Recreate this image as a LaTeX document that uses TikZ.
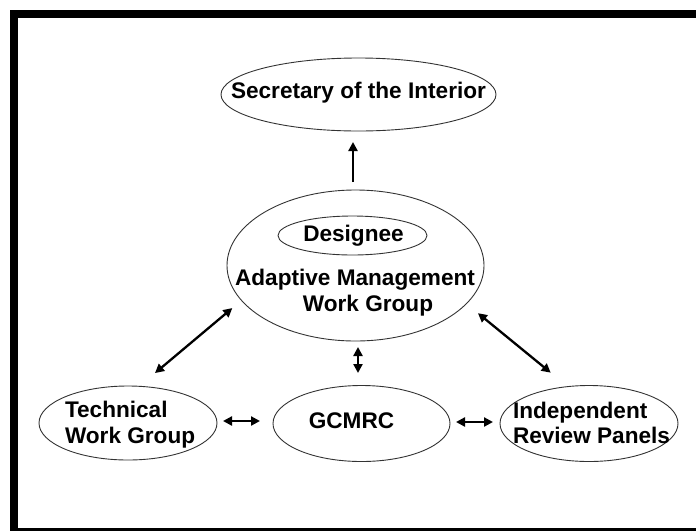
\documentclass[tikz,border=0pt]{standalone}
\usepackage{fontspec}
\setmainfont{Liberation Sans}
\usetikzlibrary{arrows.meta,shapes.geometric}
\begin{document}
\begin{tikzpicture}[x=1pt,y=-1pt,
  oval/.style={ellipse,draw=black!80,line width=0.9pt,inner sep=0pt,outer sep=0pt},
  lbl/.style={inner sep=0pt,outer sep=0pt,font=\fontsize{22.6}{26}\selectfont\bfseries},
  link/.style={line width=2.3pt,{Triangle[length=9pt,width=9pt]}-{Triangle[length=9pt,width=9pt]}},
  uplink/.style={line width=2.3pt,-{Triangle[length=9pt,width=9pt]}}]
\useasboundingbox (0,0) rectangle (696,531);

% page frame: heavy top and left rules, thin bottom rule
\fill (10,10) rectangle (696,17.5);
\fill (10,10) rectangle (17.5,531);
\fill (10,528.3) rectangle (696,531);

% ovals
\node[oval,minimum width=275pt,minimum height=73pt] (sec) at (358.5,94.5) {};
\node[oval,minimum width=257pt,minimum height=151pt] (amwg) at (355.5,265.5) {};
\node[oval,minimum width=149pt,minimum height=39pt] (des) at (352.5,235.5) {};
\node[oval,minimum width=178pt,minimum height=74pt] (twg) at (128,423) {};
\node[oval,minimum width=177pt,minimum height=76pt] (gcm) at (361.5,423.5) {};
\node[oval,minimum width=178pt,minimum height=76pt] (irp) at (589,423.5) {};

% labels
\node[lbl,anchor=base] (secT) at (358.5,98) {Secretary of the Interior};
\node[lbl,anchor=base] (desT) at (353.5,241) {Designee};
\node[lbl,anchor=base] (amwgA) at (355,285) {Adaptive Management};
\node[lbl,anchor=base] (amwgB) at (368,311) {Work Group};
\node[lbl,anchor=base west] (twgA) at (65,417) {Technical};
\node[lbl,anchor=base west] (twgB) at (65,443) {Work Group};
\node[lbl,anchor=base] (gcmT) at (351.5,428) {GCMRC};
\node[lbl,anchor=base west] (irpA) at (513,418) {Independent};
\node[lbl,anchor=base west] (irpB) at (513,443) {Review Panels};

% connectors
\draw[uplink,shorten <=8pt,shorten >=11pt]
  ([xshift=-2.5pt]amwg.north) -- ([xshift=-2.5pt]amwg.north |- sec.south);
\draw[link,shorten <=12pt,shorten >=20.6pt] (amwg.197) -- (twg.73);
\draw[link,shorten <=15pt,shorten >=22pt] (amwg.341) -- (irp.120);
\draw[link,shorten <=6pt,shorten >=12.5pt]
  ([xshift=2.5pt]amwg.south) -- ([xshift=2.5pt]amwg.south |- gcm.north);
\draw[link,shorten <=6pt,shorten >=13pt]
  ([yshift=2pt]twg.east) -- ([yshift=2pt]twg.east -| gcm.west);
\draw[link,shorten <=6pt,shorten >=7pt]
  ([yshift=1.5pt]gcm.east) -- ([yshift=1.5pt]gcm.east -| irp.west);
\end{tikzpicture}
\end{document}
